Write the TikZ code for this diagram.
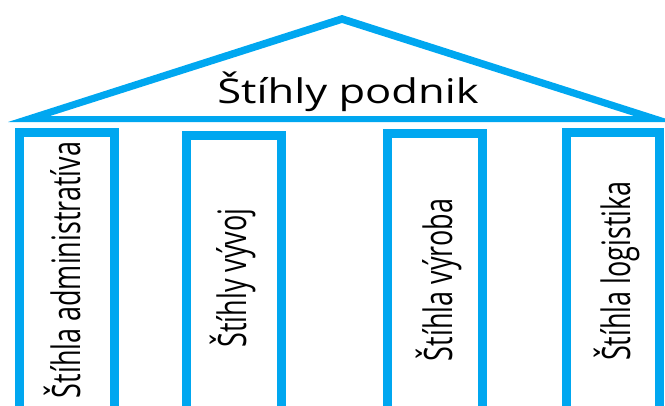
\documentclass[tikz,border=0pt]{standalone}
\usepackage{fontspec}
\setmainfont{Open Sans}
\definecolor{pillar}{RGB}{0,167,240}
\begin{document}
\begin{tikzpicture}[x=1pt,y=-1pt,
  roof/.style={fill=pillar,even odd rule},
  column/.style={draw=pillar,line width=9pt,fill=white},
  roofText/.style={anchor=base,inner sep=0pt,font=\fontsize{34}{40}\selectfont},
  colText/.style={anchor=base,inner sep=0pt,rotate=90,font=\fontsize{27}{30}\selectfont}]
\useasboundingbox (0,0) rectangle (665,405);
\clip (0,0) rectangle (665,405);
% roof
\fill[roof] (342,15) -- (8,122) -- (676,122) -- cycle
            (342,23) -- (50,116) -- (634,116) -- cycle;
\node[roofText] (roofT) at (348,103) {\scalebox{1.28}[1]{Štíhly podnik}};
% columns
\draw[column] (19.5,420) rectangle (114.5,132.5);
\draw[column] (186.5,420) rectangle (281.5,135.5);
\draw[column] (387.5,420) rectangle (482.5,133.5);
\draw[column] (566.5,420) rectangle (659.5,132.5);
\node[colText] (c1) at (80,270) {\scalebox{1}[1.45]{Štíhla administratíva}};
\node[colText] (c2) at (246,278) {\scalebox{1}[1.45]{Štíhly vývoj}};
\node[colText] (c3) at (452,280) {\scalebox{1}[1.45]{Štíhla výroba}};
\node[colText] (c4) at (630,271) {\scalebox{1}[1.45]{Štíhla logistika}};
\end{tikzpicture}
\end{document}
